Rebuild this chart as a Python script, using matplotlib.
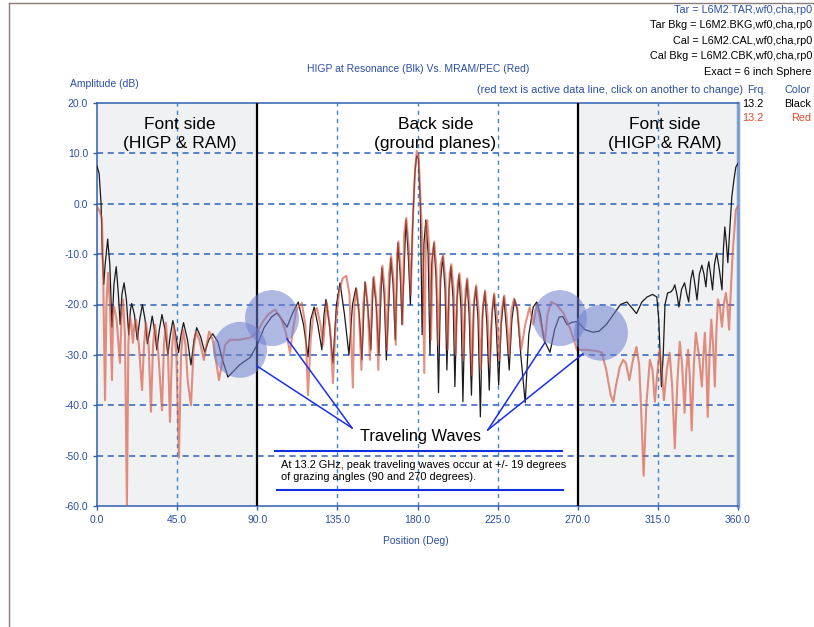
import matplotlib
matplotlib.use("Agg")
import matplotlib.pyplot as plt
from matplotlib.patches import Ellipse
from matplotlib.lines import Line2D

plt.rcParams['font.family'] = ['Liberation Sans', 'DejaVu Sans']

# ---- data (position in deg, amplitude in dB) ----
black_deg = [0, 1.2, 2.3, 3.0, 3.8, 4.6, 6.0, 7.2, 8.4, 9.5, 10.8, 12.0, 13.0, 14.0, 15.2, 16.5,
             17.8, 18.8, 19.5, 21.0, 22.6, 24.0, 25.5, 27.0, 28.3, 29.8, 31.0, 32.3, 33.6, 35.0,
             36.5, 38.2, 39.8, 41.2, 42.6, 44.2, 45.8, 47.2, 48.6, 50.8, 52.8, 54.5, 56.0, 58.3,
             60.5, 62.8, 65.0, 68.0, 70.5, 73.5, 76.0, 80.0, 86.0, 90.0,
             94, 98, 101, 104, 106.7, 109.5, 113, 116, 118.5, 120, 122, 124, 126.3, 127.5, 128.6,
             130.5, 132.5, 134.5, 136.5, 139, 141.5, 143.5, 145.4, 147.3, 148.8, 150.5, 152.2,
             153.8, 155.2, 156.8, 158.3, 160, 161.3, 162.5, 165, 166.3, 167.5, 169, 170.3, 171.3,
             173.5, 174.8, 176, 177.2, 178.5, 179.5, 180.5, 181.6, 182.6, 183.6, 184.7, 186, 187,
             188, 189.2, 190.5, 191.8, 193, 194.2, 195.5, 196.5, 197.7, 198.8, 200, 201, 202.2,
             203.3, 204.5, 205.5, 206.7, 207.8, 209, 210.3, 211.5, 212.8, 214, 215.3, 216.5,
             217.8, 219, 220.3, 221.6, 222.9, 224.3, 225.6, 227, 228.5, 230, 231.5, 233, 234.5,
             236, 238, 240.5, 242.5, 245, 247, 249, 251, 254.4, 257, 259.5, 261.6, 264, 267, 270,
             274, 278.6, 282, 286, 290, 294, 297.6, 300, 303, 306, 309, 312, 314.4, 315.5, 316.3,
             317, 318, 319, 320.5, 322.3, 323.5, 324.5, 325.7, 326.8, 328.3, 330, 331.3, 332.3,
             333.5, 334.6, 335.8, 337, 338.3, 339.7, 340.9, 342, 342.8, 343.6, 344.6, 345.7,
             346.8, 348, 349.5, 351, 351.8, 352.6, 353.5, 354.3, 355.4, 356.5, 357.8, 358.8, 360]
black_db = [7.5, 6, 0, -10, -16, -12, -7, -12, -24.5, -16, -12.5, -18, -24, -18, -15.7, -19,
            -26, -21, -19.8, -22, -27, -23, -20, -23, -27.8, -25, -22.3, -25, -29, -25,
            -22, -25, -30, -26, -23.2, -26, -29.5, -26, -23.6, -27, -32, -27, -24.6, -26.5,
            -29.5, -27, -25.8, -27.5, -31, -34.4, -33.5, -32, -30.5, -28,
            -24.5, -22.5, -21.7, -23, -24.5, -22, -19.5, -24, -30.4, -23, -20.5, -24, -29, -22, -19,
            -24, -31.6, -20, -15.7, -22, -30, -20, -16.7, -22, -31, -15.5, -21,
            -29, -14.7, -20, -30, -12.7, -18, -31, -10.8, -16, -27, -7.8, -14, -24,
            -3.2, -10, -20, -5, 6, 9.5, 9, 0, -26, -8, -3.2, -10, -30,
            -12, -7.8, -15, -37.5, -15, -10.5, -17, -33, -17, -12.4, -19, -36.3, -19,
            -14.1, -21, -39.3, -20, -15.1, -22, -38, -21, -16.5, -23, -42.3, -22,
            -17.5, -24, -37, -23, -18.1, -25, -36, -24, -18.5, -25, -33, -23, -19,
            -21, -30, -39.5, -26, -20.5, -19.5, -22, -27, -29.5, -25, -22.5, -22.4, -24, -23.5, -23.4,
            -25, -25.5, -25.3, -24, -22, -20, -19.5, -20.5, -21.8, -19.5, -18.5, -18, -18.5, -23, -30,
            -36.3, -30, -20, -17.7, -17.5, -17, -16.1, -18, -20.5, -17, -15.7, -18, -19.5,
            -15, -13.2, -16, -19.1, -14, -12.2, -14, -16.5, -13, -11.5, -14, -17.1,
            -12, -9.8, -13, -17.1, -9, -4.6, -8, -11.7, -5, 1.3, 5, 7.3, 8]

red_deg = [0, 1.5, 2.8, 3.5, 4.5, 5.3, 6.2, 7.3, 8.4, 9.0, 9.6, 11, 12.9, 13.8, 14.6, 15.7, 16.8,
           17.6, 18.5, 19.3, 20.2, 21.0, 21.9, 23.5, 25.3, 26.4, 27.5, 29, 30.3, 31.5, 32.6, 34.5,
           36.5, 37.6, 38.7, 39.8, 41, 42.1, 43.2, 44.6, 46, 47.2, 48.3, 49.7, 51, 52.8, 54.2,
           55.6, 57.5, 60, 61.5, 63, 65, 68.5, 70.5, 72, 74.7, 80, 86,
           90, 93, 96, 100, 103, 105.6, 107, 108.4, 110, 112, 115, 117, 118.5, 120, 121.5, 123.5,
           125.5, 127, 129, 131, 132.5, 134, 136, 138, 140, 141.8, 143.7, 144.6, 145.8, 147,
           148.5, 149.5, 150.8, 152, 153.3, 154.5, 155.5, 156.8, 158, 159, 160.3, 161.5, 162.8,
           164, 165.2, 166.5, 167.8, 168.5, 169.3, 170.5, 171.6, 172.5, 173.7, 175, 176.2, 177.5,
           178.7, 179.6, 180.6, 181.8, 183, 183.8, 184.8, 185.5, 186.6, 187.6, 188.5, 189.4,
           190.6, 191.6, 193, 194.4, 195.7, 197, 198, 199, 200.3, 201.5, 202.5, 203.5, 204.8,
           206, 207, 208, 209.3, 210.6, 211.8, 213, 214.3, 215.6, 216.8, 218, 219.3, 220.7, 222,
           223.1, 224.5, 225.9, 227.3, 228.7, 230, 231.5, 232.8, 234.3, 236, 238.2, 240.5, 243,
           245, 247, 249.5, 251.5, 253, 255, 258, 262, 266, 269.5,
           275, 280, 283.5, 286, 288.5, 290, 291.5, 293.6, 295.5, 297, 299, 301, 303, 304.5,
           305.5, 307, 308.5, 310.5, 312, 313.3, 314.6, 316, 317.2, 318.4, 320, 321.6, 323,
           324.5, 326, 327.3, 328.6, 330, 331, 332, 333, 334, 335.2, 336.3, 338, 339.7, 340.6,
           341.4, 342.2, 343, 344, 345, 346, 347, 347.9, 348.7, 349.8, 351, 352, 353.2, 354,
           355, 356, 357, 358, 358.8, 360]
red_db = [-0.6, -1.5, -3, -15, -39, -20, -13.7, -20, -35, -22, -20.5, -23, -31.6, -22, -19, -26, -59.8,
          -28, -22.4, -24, -27.6, -24, -23, -28, -37, -28, -23.6, -28, -41.3, -28, -24, -30,
          -41, -28, -23.6, -29, -43.3, -29, -24, -30, -50.4, -30, -25, -28, -35.4, -40, -29,
          -25.4, -27, -31, -28, -25.4, -27, -35, -31, -28, -27, -27, -26.6,
          -25.6, -23.5, -22, -21, -22.5, -25, -27, -29.6, -25, -21, -19.7, -24, -38, -27, -22, -20.7,
          -24, -28, -19.5, -25, -35.6, -24, -17.5, -14.8, -14.3, -18, -36.5, -20, -17, -21,
          -33, -20, -15.8, -20, -31, -18, -14.5, -19, -33, -17, -12.3, -17, -29,
          -14, -10.4, -15, -28, -10, -7.5, -13, -24, -6, -2.8, -8, -18, -2,
          7, 10.5, 9.5, 0, -10, -33.6, -4, -3.3, -9, -27, -10, -7.5,
          -13, -28, -12, -10.2, -15, -29, -14, -12, -17, -30, -16, -13.8, -18,
          -31, -17, -14.8, -20, -34, -19, -16.2, -21, -33, -20, -17.2, -22, -32, -21,
          -17.8, -22, -31, -21, -18.2, -22, -30, -21, -18.8, -20.5, -29, -24, -20.5,
          -24, -20, -24, -27.4, -22, -19.5, -20, -21.7, -25, -29,
          -29, -29.2, -29.5, -33, -38, -39.3, -36, -32.4, -31, -31.6, -35, -31, -28.4, -32,
          -40, -54, -40, -31, -33, -39.3, -34, -29, -33, -39, -33, -29.6, -36,
          -48.5, -35, -27.4, -32, -41.5, -33, -29, -35, -45, -32, -25.6, -30, -36.3, -30,
          -25.6, -32, -42.3, -30, -23, -28, -36.3, -25, -19, -20.5, -24.4, -20, -17.7, -20,
          -25, -17, -9.8, -5, -1.2, -0.5]

x_ticks = [0, 45, 90, 135, 180, 225, 270, 315, 360]
y_ticks = [20, 10, 0, -10, -20, -30, -40, -50, -60]
front_sides = [(0, 90), (270, 360)]
# highlighted traveling wave spots (centre deg, centre dB)
wave_spots = [(80.3, -29.0), (98.3, -22.7), (260.0, -22.7), (283.0, -25.6)]

W, H = 814, 627
fig = plt.figure(figsize=(W / 100, H / 100), dpi=100)
ax = fig.add_axes([97 / W, 121 / H, (738 - 97) / W, (506 - 103) / H])

blue_txt = '#2b4ea6'
for a, b in front_sides:
    ax.axvspan(a, b, color='#eff1f3', zorder=0, lw=0)

ax.plot(black_deg, black_db, color='#1a1a1a', lw=0.9, zorder=3)
ax.plot(red_deg, red_db, color='#d8553f', lw=1.5, alpha=0.65, zorder=4)

ax.set_xlim(0, 360)
ax.set_ylim(-60, 20)
ax.set_xticks(x_ticks)
ax.set_yticks(y_ticks)
ax.set_xticklabels([f"{v:.1f}" for v in x_ticks])
ax.set_yticklabels([f"{v:.1f}" for v in y_ticks])
ax.tick_params(colors='#2f5fb0', labelcolor=blue_txt, labelsize=7.5, length=3, width=1)

for v in y_ticks[1:-1]:
    ax.axhline(v, color='#2e62b5', ls=(0, (4, 3)), lw=1.1, zorder=1)
for v in x_ticks[1:-1]:
    if v in (90, 270):
        ax.axvline(v, color='black', lw=1.6, zorder=5)
    else:
        ax.axvline(v, color='#3a86d6', ls=(0, (3, 3)), lw=1.0, zorder=1)

for side in ['left', 'bottom', 'top']:
    ax.spines[side].set_color('#2f5fb0')
    ax.spines[side].set_linewidth(1.1)
ax.spines['right'].set_color('#7d9fd6')
ax.spines['right'].set_linewidth(2.5)

for cx, cy in wave_spots:
    ax.add_patch(Ellipse((cx, cy), 30.3, 11.1, facecolor='#6f7fcf', alpha=0.55,
                         edgecolor='none', zorder=6))

# pointer lines from the label to the highlighted spots
blue_line = '#1a30ee'
for (x0, y0), (x1, y1) in [((89.8, -32.2), (143.2, -44.5)), ((106.7, -26.8), (143.2, -44.5)),
                           ((251.5, -27.6), (219.5, -44.9)), ((272.9, -29.8), (219.5, -44.9))]:
    ax.plot([x0, x1], [y0, y1], color=blue_line, lw=1.1, zorder=7)
ax.plot([100, 261.1], [-49.0, -49.0], color='#1030e0', lw=1.5, zorder=7)
ax.plot([101, 261.7], [-56.8, -56.8], color='#1030e0', lw=1.5, zorder=7)

side_kw = dict(ha='center', va='center', fontsize=12.5, linespacing=1.3, zorder=8)
ax.text(46.5, 13.9, "Font side\n(HIGP & RAM)", **side_kw)
ax.text(190, 13.9, "Back side\n(ground planes)", **side_kw)
ax.text(319, 13.9, "Font side\n(HIGP & RAM)", **side_kw)
ax.text(181.5, -46.2, "Traveling Waves", ha='center', va='center', fontsize=11.8, zorder=8)
ax.text(103.5, -53.1, "At 13.2 GHz, peak traveling waves occur at +/- 19 degrees\n"
        "of grazing angles (90 and 270 degrees).", ha='left', va='center', fontsize=7.95,
        linespacing=1.25, zorder=8)

# texts around the plot (figure pixel positions)
def ftext(x, y, s, **kw):
    fig.text(x / W, 1 - y / H, s, va='center', **kw)

ftext(70, 84, "Amplitude (dB)", color=blue_txt, fontsize=7.5)
ftext(416, 541, "Position (Deg)", color=blue_txt, fontsize=7.5, ha='center')
ftext(418, 69, "HIGP at Resonance (Blk) Vs. MRAM/PEC (Red)", color=blue_txt, fontsize=7.5,
      ha='center')
header = ["Tar = L6M2.TAR,wf0,cha,rp0", "Tar Bkg = L6M2.BKG,wf0,cha,rp0",
          "Cal = L6M2.CAL,wf0,cha,rp0", "Cal Bkg = L6M2.CBK,wf0,cha,rp0", "Exact = 6 inch Sphere"]
for i, s in enumerate(header):
    ftext(812, 10 + i * 15.4, s, ha='right', fontsize=7.8,
          color=blue_txt if i == 0 else 'black')
ftext(743, 90, "(red text is active data line, click on another to change)", ha='right',
      color=blue_txt, fontsize=7.8)
ftext(747, 90, "Frq.", color=blue_txt, fontsize=7.8)
ftext(811, 90, "Color", color=blue_txt, fontsize=7.8, ha='right')
ftext(742, 104, "13.2", color='black', fontsize=7.8)
ftext(811, 104, "Black", color='black', fontsize=7.8, ha='right')
ftext(742, 118, "13.2", color='#e04a2a', fontsize=7.8)
ftext(811, 118, "Red", color='#e04a2a', fontsize=7.8, ha='right')

# frame lines of the original window
fig.add_artist(Line2D([9 / W, 9 / W], [0, 1 - 3 / H], color='#8a7a78', lw=1.0))
fig.add_artist(Line2D([9 / W, 1], [1 - 3 / H, 1 - 3 / H], color='#8a7a78', lw=1.0))

fig.savefig("out.png", dpi=100)
